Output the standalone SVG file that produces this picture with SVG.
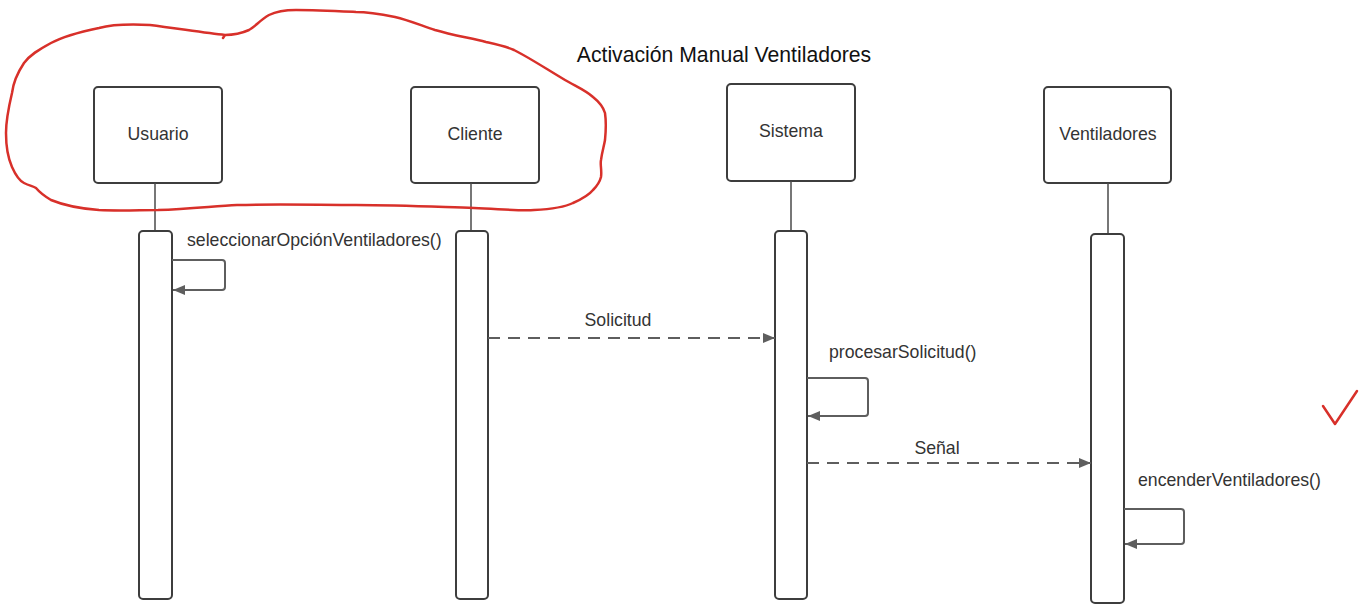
<svg xmlns="http://www.w3.org/2000/svg" width="1364" height="605" viewBox="0 0 1364 605">
<style>
.box{fill:#fff;stroke:#3d3d3d;stroke-width:2}
.act{fill:#fff;stroke:#3d3d3d;stroke-width:2}
.life{stroke:#4a4a4a;stroke-width:1.5;fill:none}
.msg{stroke:#5e5e5e;stroke-width:2;fill:none}
.dash{stroke-dasharray:12 8}
.lbl{font-family:"Liberation Sans",Arial,sans-serif;font-size:17.7px;fill:#333}
.title{font-family:"Liberation Sans",Arial,sans-serif;font-size:21.2px;fill:#111}
.red{stroke:#d8302a;stroke-width:2.5;fill:none;stroke-linecap:round;stroke-linejoin:round}
</style>
<defs>
<marker id="ah" viewBox="0 0 12 10" refX="12" refY="5" markerWidth="12" markerHeight="10" markerUnits="userSpaceOnUse" orient="auto">
<path d="M0,0 L12,5 L0,10 Z" fill="#5e5e5e"/>
</marker>
</defs>
<rect width="1364" height="605" fill="#fff"/>
<text class="title" x="724" y="62" text-anchor="middle">Activación Manual Ventiladores</text>

<g id="usuario">
<rect class="box" x="94" y="87" width="128" height="96" rx="4"/>
<text class="lbl" x="158" y="140" text-anchor="middle">Usuario</text>
<line class="life" x1="155" y1="183" x2="155" y2="231"/>
<rect class="act" x="139" y="231" width="33" height="368" rx="4"/>
</g>
<g id="cliente">
<rect class="box" x="411" y="87" width="128" height="96" rx="4"/>
<text class="lbl" x="475" y="140" text-anchor="middle">Cliente</text>
<line class="life" x1="471" y1="183" x2="471" y2="231"/>
<rect class="act" x="456" y="231" width="32" height="368" rx="4"/>
</g>
<g id="sistema">
<rect class="box" x="727" y="84" width="128" height="97" rx="4"/>
<text class="lbl" x="791" y="137" text-anchor="middle">Sistema</text>
<line class="life" x1="791" y1="181" x2="791" y2="231"/>
<rect class="act" x="775" y="231" width="32" height="368" rx="4"/>
</g>
<g id="ventiladores">
<rect class="box" x="1044" y="87" width="127" height="96" rx="4"/>
<text class="lbl" x="1108" y="140" text-anchor="middle">Ventiladores</text>
<line class="life" x1="1108" y1="183" x2="1108" y2="234"/>
<rect class="act" x="1091" y="234" width="33" height="369" rx="4"/>
</g>

<g id="connectors">
<path class="msg" d="M172,260 H222 Q225,260 225,263 V287 Q225,290 222,290 H173" marker-end="url(#ah)"/>
<text class="lbl" x="187" y="246">seleccionarOpciónVentiladores()</text>
<path class="msg dash" d="M488,338 H775" marker-end="url(#ah)"/>
<text class="lbl" x="618" y="326" text-anchor="middle">Solicitud</text>
<path class="msg" d="M807,378 H865 Q868,378 868,381 V413 Q868,416 865,416 H808" marker-end="url(#ah)"/>
<text class="lbl" x="829" y="358">procesarSolicitud()</text>
<path class="msg dash" d="M807,463 H1091" marker-end="url(#ah)"/>
<text class="lbl" x="937" y="454" text-anchor="middle">Señal</text>
<path class="msg" d="M1124,509 H1181 Q1184,509 1184,512 V541 Q1184,544 1181,544 H1125" marker-end="url(#ah)"/>
<text class="lbl" x="1138" y="486">encenderVentiladores()</text>
</g>

<g id="annotations">
<path class="red" d="M223,38 L225,35 C205,33 175,28 150,25 C130,24 110,25 99,28 C80,32 62,37 51,43 C38,50 30,55 24,63 C16,75 13,85 12,93 C8,110 6,120 6,133 C6,150 8,158 12,167 C16,176 20,181 24,183 C30,186 33,186 36,188 C41,194 46,197 51,200 C68,207 85,209 99,210 C120,211 140,210 158,210 C190,209 215,206 237,205 C280,204 320,205 356,205 C400,205 440,207 474,208 C500,209 520,211 534,210 C553,209 565,207 573,203 C582,199 589,195 593,190 C598,185 600,181 601,177 C602,170 600,165 601,160 C602,152 604,146 605,140 C606,130 606,120 605,113 C603,106 598,101 593,97 C585,90 575,86 565,80 C548,70 530,58 514,50 C505,46 495,44 486,42 C470,38 452,35 435,30 C420,25 408,20 395,17 C380,14 368,12 356,12 C335,11 315,10 296,10 C282,10 275,12 269,15 C260,20 255,27 249,30 C240,34 232,35 225,35"/>
<path class="red" d="M1323,406 L1335,424 L1357,391"/>
</g>
</svg>
